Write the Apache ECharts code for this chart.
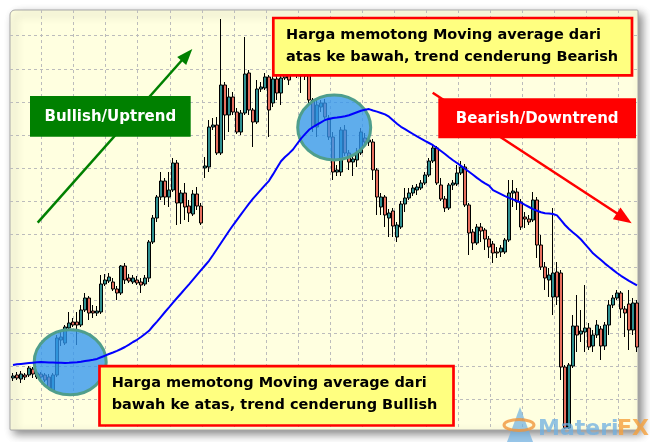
<!DOCTYPE html>
<html><head><meta charset="utf-8">
<script src="https://cdn.jsdelivr.net/npm/echarts@6/dist/echarts.min.js"></script>
<style>html,body{margin:0;padding:0;background:#fff}#c{width:650px;height:442px}</style>
</head><body><div id="c"></div>
<script>
const opens = [52,55,51,55,55,61,53,56,55,53, 40,55,90,87,102,108,108,105,120,132, 119,117,118,146,149,148,141,137,164,152,
 148,150,148,146,152,188,212,233,249,233, 240,267,227,237,224,216,236,224,262,263, 303,305,277,345,315,333,318,298,317,357,
 320,308,341,342,353,327,351,337,352,358, 358,368,354,365,355,330,303,323,327,312, 293,258,258,300,277,268,270,277,292,288,
 288,260,223,233,212,219,193,203,226,232, 237,240,242,247,255,269,282,245,231,222, 245,246,257,263,225,198,187,203,200,191,
 186,178,178,178,190,237,238,228,213,211, 210,230,185,163,150,133,158,157,63,2, 64,104,96,98,102,84,95,101,84,105,
 125,132,137,121,126,100,127];
const closes = [54,52,56,53,62,56,57,53,50,42, 55,92,93,103,107,105,105,120,132,117, 117,119,146,150,153,141,137,164,150,149,
 152,147,145,152,188,212,233,249,233,240, 267,227,237,223,217,236,224,207,264,303, 305,277,345,315,333,318,298,317,356,320,
 308,341,343,353,320,351,337,352,360,350, 370,355,375,354,330,303,325,327,313,293, 258,260,300,277,268,271,277,298,288,290,
 260,233,233,215,217,204,205,226,232,237, 242,243,247,255,269,282,247,231,222,245, 247,257,263,225,197,187,203,199,191,183,
 177,177,182,190,237,239,228,203,211,208, 230,185,163,152,155,157,133,63,2,65, 104,95,99,102,83,95,105,84,105,125,
 132,137,121,117,100,127,83];
const lows = [49,50,47,50,53,52,51,50,48,40, 38,53,84,85,100,103,85,103,118,110, 112,114,116,144,147,139,130,135,146,147,
 146,145,137,144,148,186,208,230,225,223, 238,205,206,210,208,214,220,205,252,258, 300,275,275,290,298,315,296,295,315,315,
 283,306,338,340,293,323,330,325,350,345, 354,352,337,350,327,298,293,318,311,290, 250,254,254,274,260,254,263,275,284,284,
 250,215,215,203,193,193,188,201,218,230, 234,235,240,245,253,267,245,229,218,220, 240,244,255,223,175,180,185,188,180,172,
 167,172,173,176,188,223,220,200,202,205, 208,172,160,140,133,115,125,50,1,1, 62,78,88,78,80,78,92,70,80,95,
 122,130,112,93,80,95,78];
const highs = [57,58,59,57,64,63,59,58,57,56, 57,95,100,105,118,112,118,125,137,134, 125,124,155,156,157,152,144,165,167,156,
 155,154,152,155,190,215,235,258,252,258, 272,270,240,247,230,240,243,227,273,310, 312,313,411,348,342,338,322,320,393,360,
 322,350,348,357,355,354,354,358,368,370, 375,372,385,372,360,332,330,330,331,315, 298,265,303,305,280,275,282,302,297,294,
 291,262,237,235,221,222,208,229,242,242, 245,246,250,258,272,285,284,252,234,247, 250,265,269,266,227,201,206,207,202,194,
 189,183,185,192,250,250,242,231,218,215, 238,233,195,168,162,222,168,160,65,67, 115,135,120,145,107,100,110,104,108,130,
 135,140,139,124,140,132,130];
const maValues = [65,65.7,66.1,66.5,66.9,67.3,67.7,68,67.8,67.6, 67.5,67.3,67.2,67,67.2,67.5,67.8,68.2,68.9,69.6,
 70.3,71.1,72.7,74.3,76,77.5,79.1,81,83,85.4, 88,90.2,93,96,99.2,104,108.4,113.2,118,122.6,
 127.3,132,136.5,141.1,145.7,150.4,155.1,159.8,164.5,169.2, 175,181,187,193,199,204.7,210.2,215.6,221,226.4,
 231.4,235.9,240.3,244.8,249.2,255.6,262.2,268.8,273,276.6, 280.5,286,291.4,295.8,300.2,303,305.4,307.7,310,311.1,
 312,312.5,313.1,313.7,314.7,316.2,317.7,319.2,320.2,320.9, 319.5,318.4,317,315.6,313.3,309.8,306.3,303.2,300.8,298.4,
 296,293.6,291.3,289.1,287,284.8,282,279,276,272.8, 269.8,267,264.1,261.2,258.2,255.2,252.1,249.2,246.7,244.3,
 239.8,237.8,235.8,233.8,232.1,230.6,229,227.3,225.1,223, 220.9,219.3,217.7,216.8,216.5,216,214.6,209.8,205,201,
 197.6,194.3,190.5,185.9,181.3,176.7,173.3,169.9,166.4,163.2, 160.1,157,154.2,151.7,149.2,146.8,144.6];
const categories = opens.map((_, i) => 'Bar ' + (i + 1));

const labelBull = 'Bullish/Uptrend';
const labelBear = 'Bearish/Downtrend';
const noteTop = ['Harga memotong Moving average dari', 'atas ke bawah, trend cenderung Bearish'];
const noteBottom = ['Harga memotong Moving average dari', 'bawah ke atas, trend cenderung Bullish'];
const watermark = ['Materi', 'FX'];

const candles = opens.map((o, i) => [o, closes[i], lows[i], highs[i]]);
const FONT = '"DejaVu Sans", "Liberation Sans", sans-serif';
const gridLine = {show: true, showMinLine: false, showMaxLine: false, lineStyle: {color: '#bcbcbc', type: [3, 3], width: 1}};
const hide = {axisLine: {show: false}, axisTick: {show: false}, axisLabel: {show: false}};

const chart = echarts.init(document.getElementById('c'), null, {renderer: 'canvas'});
chart.setOption({
  animation: false,
  backgroundColor: '#ffffff',
  grid: [
    {left: 11, right: 11, top: 10, bottom: 12},
    {left: 10, right: 12, top: 2.7, bottom: 9.65},
    {left: 9.67, right: -0.3, top: 10, bottom: 12}
  ],
  xAxis: [
    {type: 'category', gridIndex: 0, data: categories, boundaryGap: true, show: false},
    {type: 'value', gridIndex: 1, min: 0, max: 1, show: false},
    Object.assign({type: 'value', gridIndex: 2, min: -1, max: 19, interval: 1, splitLine: gridLine}, hide)
  ],
  yAxis: [
    {type: 'value', gridIndex: 0, min: 0, max: 420, show: false, splitLine: {show: false}},
    Object.assign({type: 'value', gridIndex: 1, min: -1, max: 12, interval: 1, splitLine: gridLine}, hide),
    {type: 'value', gridIndex: 2, min: 0, max: 1, show: false}
  ],
  series: [
    {
      type: 'candlestick', xAxisIndex: 0, yAxisIndex: 0, data: candles, barWidth: 3, z: 2,
      itemStyle: {color: '#2f9090', color0: '#e8705f', borderColor: '#000000', borderColor0: '#000000', borderWidth: 1}
    },
    {
      type: 'line', xAxisIndex: 0, yAxisIndex: 0, data: maValues, symbol: 'none', z: 5,
      lineStyle: {color: '#0000ff', width: 2}
    }
  ],
  graphic: [
    {type: 'rect', z: -10, shape: {x: 10, y: 10, width: 628, height: 420, r: [5, 1, 1, 1]},
      style: {fill: '#ffffe0', stroke: '#a8a8a8', lineWidth: 1, shadowBlur: 8, shadowOffsetX: 4, shadowOffsetY: 4, shadowColor: 'rgba(0,0,0,0.45)'}},
    {type: 'ellipse', z: 3, shape: {cx: 70.2, cy: 362.3, rx: 36, ry: 32.5},
      style: {fill: 'rgba(50,150,240,0.78)', stroke: '#4f9e8c', lineWidth: 3}},
    {type: 'ellipse', z: 3, shape: {cx: 334.2, cy: 127.5, rx: 36.5, ry: 32.5},
      style: {fill: 'rgba(50,150,240,0.78)', stroke: '#4f9e8c', lineWidth: 3}},
    {type: 'line', z: 10, shape: {x1: 37.7, y1: 222.7, x2: 183, y2: 59}, style: {stroke: '#008000', lineWidth: 2.5}},
    {type: 'polygon', z: 10, shape: {points: [[192.3, 49], [186.2, 65], [177.2, 57]]}, style: {fill: '#008000'}},
    {type: 'line', z: 10, shape: {x1: 432.7, y1: 92.7, x2: 618, y2: 214}, style: {stroke: '#ff0000', lineWidth: 2.5}},
    {type: 'polygon', z: 10, shape: {points: [[631.7, 223.3], [612.9, 219.3], [620.5, 207.5]]}, style: {fill: '#ff0000'}},
    {type: 'rect', z: 11, shape: {x: 30, y: 96, width: 160.7, height: 40.7}, style: {fill: '#008000'}},
    {type: 'text', z: 12, x: 110.3, y: 117, style: {text: labelBull, font: 'bold 15px ' + FONT, fill: '#ffffff', align: 'center', verticalAlign: 'middle'}},
    {type: 'rect', z: 11, shape: {x: 438.3, y: 98.3, width: 197.7, height: 40}, style: {fill: '#ff0000'}},
    {type: 'text', z: 12, x: 537.2, y: 119, style: {text: labelBear, font: 'bold 15px ' + FONT, fill: '#ffffff', align: 'center', verticalAlign: 'middle'}},
    {type: 'rect', z: 11, shape: {x: 273.3, y: 18, width: 358.7, height: 57.3}, style: {fill: '#ffff80', stroke: '#ff0000', lineWidth: 2.7}},
    {type: 'text', z: 12, x: 286, y: 35.5, style: {text: noteTop[0], font: 'bold 14.5px ' + FONT, fill: '#000000', verticalAlign: 'middle'}},
    {type: 'text', z: 12, x: 286, y: 57.5, style: {text: noteTop[1], font: 'bold 14.5px ' + FONT, fill: '#000000', verticalAlign: 'middle'}},
    {type: 'rect', z: 11, shape: {x: 99.5, y: 366.2, width: 354, height: 59.3}, style: {fill: '#ffff80', stroke: '#ff0000', lineWidth: 2.7}},
    {type: 'text', z: 12, x: 111.7, y: 383, style: {text: noteBottom[0], font: 'bold 14.5px ' + FONT, fill: '#000000', verticalAlign: 'middle'}},
    {type: 'text', z: 12, x: 111.7, y: 405, style: {text: noteBottom[1], font: 'bold 14.5px ' + FONT, fill: '#000000', verticalAlign: 'middle'}},
    {type: 'polygon', z: 20, shape: {points: [[520, 407], [507, 442], [533, 442]]}, style: {fill: 'rgba(110,175,225,0.7)'}},
    {type: 'ellipse', z: 21, shape: {cx: 519, cy: 425, rx: 15, ry: 5.5}, style: {fill: 'none', stroke: 'rgba(240,150,60,0.8)', lineWidth: 3}},
    {type: 'text', z: 20, x: 538, y: 429, style: {text: watermark[0], font: 'bold 22px ' + FONT, fill: 'rgba(110,175,225,0.75)', verticalAlign: 'middle'}},
    {type: 'text', z: 20, x: 617, y: 429, style: {text: watermark[1], font: 'bold 22px ' + FONT, fill: 'rgba(245,160,60,0.8)', verticalAlign: 'middle'}}
  ]
});
</script></body></html>
